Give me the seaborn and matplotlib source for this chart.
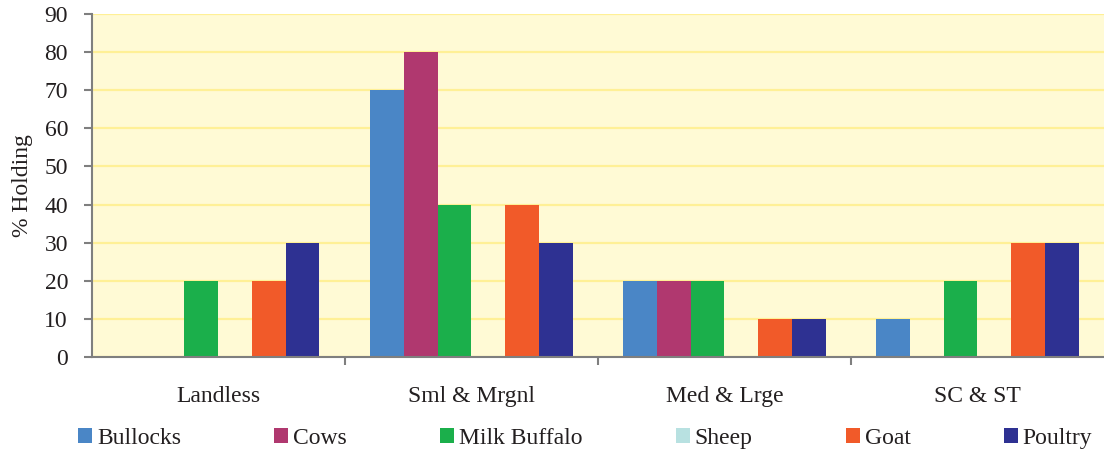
import matplotlib
matplotlib.use("Agg")
import matplotlib.pyplot as plt
from matplotlib.patches import Patch
import seaborn as sns
import pandas as pd

categories = ["Landless", "Sml & Mrgnl", "Med & Lrge", "SC & ST"]
series = ["Bullocks", "Cows", "Milk Buffalo", "Sheep", "Goat", "Poultry"]
bullocks = [0, 70, 20, 10]
cows = [0, 80, 20, 0]
milk_buffalo = [20, 40, 20, 20]
sheep = [0, 0, 0, 0]
goat = [20, 40, 10, 30]
poultry = [30, 30, 10, 30]
colors = ["#4A86C6", "#B0386F", "#1BAF4B", "#B8E1E1", "#F15A29", "#2E3192"]
yticks = [0, 10, 20, 30, 40, 50, 60, 70, 80, 90]

values = [bullocks, cows, milk_buffalo, sheep, goat, poultry]
rows = []
for name, vals in zip(series, values):
    for cat, v in zip(categories, vals):
        rows.append({"Category": cat, "Animal": name, "Holding": v})
df = pd.DataFrame(rows)

sns.set_theme(style="white")
plt.rcParams["font.family"] = ["Liberation Serif", "DejaVu Serif"]

FS = 17
fig = plt.figure(figsize=(11.04, 4.54), dpi=100)
ax = fig.add_axes([0.083, 0.214, 0.917, 0.755])
ax.set_facecolor("#FFFAD5")

sns.barplot(data=df, x="Category", y="Holding", hue="Animal",
            hue_order=series, order=categories, palette=colors,
            width=0.8, gap=0, saturation=1, linewidth=0, ax=ax, legend=False)

ax.set_ylim(0, 90)
ax.set_xlim(-0.5, 3.5)
ax.set_yticks(yticks)
ax.yaxis.grid(True, color="#FFF096", linewidth=1.6)
ax.set_axisbelow(True)

for side in ["top", "right"]:
    ax.spines[side].set_visible(False)
for side in ["left", "bottom"]:
    ax.spines[side].set_color("#7F7F7F")
    ax.spines[side].set_linewidth(1.5)

ax.tick_params(axis="y", which="major", left=True, length=6, width=1.5,
               color="#7F7F7F", labelsize=FS, pad=11, labelcolor="#231F20")
ax.set_xticks(range(len(categories)))
ax.set_xticks([0.5, 1.5, 2.5], minor=True)
ax.tick_params(axis="x", which="major", length=0, labelsize=FS, pad=21,
               labelcolor="#231F20")
ax.tick_params(axis="x", which="minor", bottom=True, length=6, width=1.5,
               color="#7F7F7F")

ax.set_xlabel("")
ax.set_ylabel("% Holding", fontsize=FS, color="#231F20", labelpad=8)

handles = [Patch(facecolor=c, edgecolor="none") for c in colors]
fig.legend(handles, series, loc="center", bbox_to_anchor=(0.53, 0.035),
           ncol=6, frameon=False, fontsize=FS, handlelength=0.6,
           handleheight=0.6, handletextpad=0.2, columnspacing=3.95,
           labelcolor="#231F20")

fig.savefig("out.png", dpi=100)
